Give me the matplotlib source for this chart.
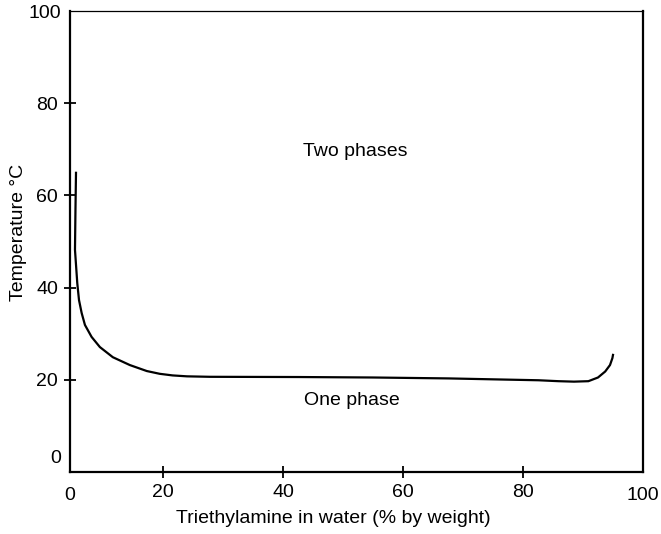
import matplotlib
matplotlib.use("Agg")
from matplotlib import pyplot as plt

plt.rcParams['font.family'] = ['Liberation Sans', 'DejaVu Sans']

# curve (x in drawn axis units, temperature in degC)
amine = [5.5, 5.41, 5.33, 5.71, 6.0, 6.44, 6.99, 8.1, 9.48, 11.64, 14.47, 17.3, 19.45, 21.6,
         24.0, 27.8, 42.7, 55.0, 67.6, 75.0, 82.6, 85.9, 88.5, 90.9, 92.5, 93.7, 94.5, 94.9, 95.0]
temp = [64.9, 56.8, 48.2, 41.0, 37.3, 34.5, 31.9, 29.3, 27.1, 24.9, 23.2, 21.9, 21.3, 20.95,
        20.75, 20.65, 20.6, 20.5, 20.3, 20.1, 19.9, 19.7, 19.6, 19.7, 20.5, 21.8, 23.2, 24.7, 25.4]

xticks = [20, 40, 60, 80]
yticks = [20, 40, 60, 80]

fig = plt.figure(figsize=(6.61, 5.34), dpi=100)
ax = fig.add_axes([70 / 661, 62 / 534, 573 / 661, 461 / 534])

ax.plot(amine, temp, color='black', linewidth=1.6, solid_joinstyle='round')

ax.set_xlim(4.5, 100)
ax.set_ylim(0, 100)
ax.set_xticks(xticks)
ax.set_xticklabels([str(t) for t in xticks])
ax.set_yticks(yticks)
ax.set_yticklabels([str(t) for t in yticks])
ax.tick_params(direction='inout', length=9, width=1.3, labelsize=14, pad=4)

# end labels sit on the frame corners, without tick marks
ax.text(4.5, -3.2, '0', ha='center', va='top', fontsize=14)
ax.text(100, -3.2, '100', ha='center', va='top', fontsize=14)
ax.text(3.0, 1.0, '0', ha='right', va='bottom', fontsize=14)
ax.text(3.0, 99.5, '100', ha='right', va='center', fontsize=14)

for side in ['left', 'bottom', 'right']:
    ax.spines[side].set_linewidth(1.6)
ax.spines['top'].set_linewidth(0.9)

ax.text(52, 69.5, 'Two phases', ha='center', va='center', fontsize=14)
ax.text(51.5, 15.5, 'One phase', ha='center', va='center', fontsize=14)

ax.set_xlabel('Triethylamine in water (% by weight)', fontsize=14)
ax.xaxis.set_label_coords((333 - 70) / 573, -0.082)
ax.set_ylabel('Temperature °C', fontsize=14)
ax.yaxis.set_label_coords(-0.075, 0.52)

fig.savefig('out.png', dpi=100)
